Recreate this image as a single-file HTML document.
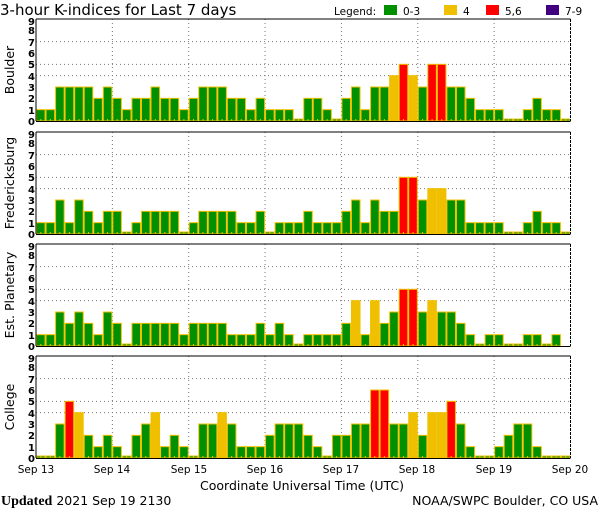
<!DOCTYPE html>
<html><head><meta charset="utf-8"><style>
html,body{margin:0;padding:0;background:#fff;}
svg{display:block;font-family:"DejaVu Sans","Liberation Sans",sans-serif;}
</style></head><body>
<svg id="s" width="600" height="510" viewBox="0 0 600 510" xmlns="http://www.w3.org/2000/svg">
<rect width="600" height="510" fill="#fff"/>
<text x="0" y="15" font-size="15" fill="#000">3-hour K-indices for Last 7 days</text>
<text x="334" y="15" font-size="10.5">Legend:</text>
<rect x="384" y="5" width="13" height="10" fill="#009000"/><text x="403" y="15" font-size="10.5">0-3</text>
<rect x="444" y="5" width="13" height="10" fill="#f0c000"/><text x="463" y="15" font-size="10.5">4</text>
<rect x="486" y="5" width="13" height="10" fill="#ff0000"/><text x="505" y="15" font-size="10.5">5,6</text>
<rect x="546" y="5" width="13" height="10" fill="#400080"/><text x="565" y="15" font-size="10.5">7-9</text>
<g id="bars"></g>
<g font-size="10" text-anchor="end" font-weight="bold">
<g transform="translate(0,0)"><text x="35" y="125">0</text><text x="35" y="114">1</text><text x="35" y="102">2</text><text x="35" y="91">3</text><text x="35" y="80">4</text><text x="35" y="68">5</text><text x="35" y="57">6</text><text x="35" y="46">7</text><text x="35" y="34">8</text><text x="35" y="25">9</text></g>
<g transform="translate(0,113)"><text x="35" y="125">0</text><text x="35" y="114">1</text><text x="35" y="102">2</text><text x="35" y="91">3</text><text x="35" y="80">4</text><text x="35" y="68">5</text><text x="35" y="57">6</text><text x="35" y="46">7</text><text x="35" y="34">8</text><text x="35" y="25">9</text></g>
<g transform="translate(0,225)"><text x="35" y="125">0</text><text x="35" y="114">1</text><text x="35" y="102">2</text><text x="35" y="91">3</text><text x="35" y="80">4</text><text x="35" y="68">5</text><text x="35" y="57">6</text><text x="35" y="46">7</text><text x="35" y="34">8</text><text x="35" y="25">9</text></g>
<g transform="translate(0,337)"><text x="35" y="125">0</text><text x="35" y="114">1</text><text x="35" y="102">2</text><text x="35" y="91">3</text><text x="35" y="80">4</text><text x="35" y="68">5</text><text x="35" y="57">6</text><text x="35" y="46">7</text><text x="35" y="34">8</text><text x="35" y="25">9</text></g>
</g>
<g font-size="12.5" text-anchor="middle">
<text transform="translate(14,70) rotate(-90)">Boulder</text>
<text transform="translate(14,183) rotate(-90)">Fredericksburg</text>
<text transform="translate(14,295) rotate(-90)">Est. Planetary</text>
<text transform="translate(14,407) rotate(-90)">College</text>
</g>
<g font-size="10.5" text-anchor="middle">
<text x="36" y="473">Sep 13</text><text x="112" y="473">Sep 14</text><text x="189" y="473">Sep 15</text><text x="265" y="473">Sep 16</text><text x="341" y="473">Sep 17</text><text x="417" y="473">Sep 18</text><text x="494" y="473">Sep 19</text><text x="570" y="473">Sep 20</text>
</g>
<text x="302" y="490" font-size="12.5" text-anchor="middle">Coordinate Universal Time (UTC)</text>
<text x="1" y="505" font-size="12.5"><tspan font-family="Liberation Serif,serif" font-weight="bold" font-size="14">Updated</tspan> 2021 Sep 19 2130</text>
<text x="598" y="505" font-size="12.5" text-anchor="end">NOAA/SWPC Boulder, CO USA</text>
</svg>
<script>
var D=[
[1,1,3,3,3,3,2,3,2,1,2,2,3,2,2,1,2,3,3,3,2,2,1,2,1,1,1,0,2,2,1,0,2,3,1,3,3,4,5,4,3,5,5,3,3,2,1,1,1,0,0,1,2,1,1,0],
[1,1,3,1,3,2,1,2,2,0,1,2,2,2,2,0,1,2,2,2,2,1,1,2,0,1,1,1,2,1,1,1,2,3,1,3,2,2,5,5,3,4,4,3,3,1,1,1,1,0,0,1,2,1,1,0],
[1,1,3,2,3,2,1,3,2,0,2,2,2,2,2,1,2,2,2,2,1,1,1,2,1,2,1,0,1,1,1,1,2,4,1,4,2,3,5,5,3,4,3,3,2,1,0,1,1,0,0,1,1,0,1,-1],
[0,0,3,5,4,2,1,2,1,0,2,3,4,1,2,1,0,3,3,4,3,1,1,1,2,3,3,3,2,1,0,2,2,3,3,6,6,3,3,4,2,4,4,5,3,1,0,0,1,2,3,3,1,0,0,0]];
var tops=[19,132,244,356],L=36,R=570.5,W=(R-L)/56,U=102/9,h='';
for(var p=0;p<4;p++){var t=tops[p],b=t+102;
 for(var k of [4,5,7]){var y=b-k*U;h+='<line x1="'+L+'" x2="'+R+'" y1="'+y+'" y2="'+y+'" stroke="#777" stroke-dasharray="1,3"/>';}
 for(var d=1;d<7;d++){var x=L+d*8*W;h+='<line x1="'+x+'" x2="'+x+'" y1="'+t+'" y2="'+b+'" stroke="#777" stroke-dasharray="1,3"/>';}
 for(var i=0;i<56;i++){var v=D[p][i];if(v<0)continue;var x=L+i*W,hh=v==0?2:v*U;
  var c=v>=7?'#400080':v>=5?'#ff0000':v==4?'#f0c000':'#009000';
  h+='<rect x="'+(x+0.5)+'" y="'+(b-hh)+'" width="'+(W-1)+'" height="'+hh+'" fill="'+c+'" stroke="#f0c000" stroke-width="1"/>';
  h+='<line x1="'+(x+W/2)+'" x2="'+(x+W/2)+'" y1="'+(b-2)+'" y2="'+b+'" stroke="#f0c000"/>';}
 h+='<line x1="'+L+'" x2="'+R+'" y1="'+t+'" y2="'+t+'" stroke="#000"/>';
 h+='<line x1="'+L+'" x2="'+R+'" y1="'+(b+0.5)+'" y2="'+(b+0.5)+'" stroke="#000"/>';
 h+='<line x1="'+L+'" x2="'+L+'" y1="'+t+'" y2="'+b+'" stroke="#000"/>';
 h+='<line x1="'+R+'" x2="'+R+'" y1="'+t+'" y2="'+b+'" stroke="#000" stroke-dasharray="3,1"/>';
}
document.getElementById('bars').innerHTML=h;
</script>
</body></html>
